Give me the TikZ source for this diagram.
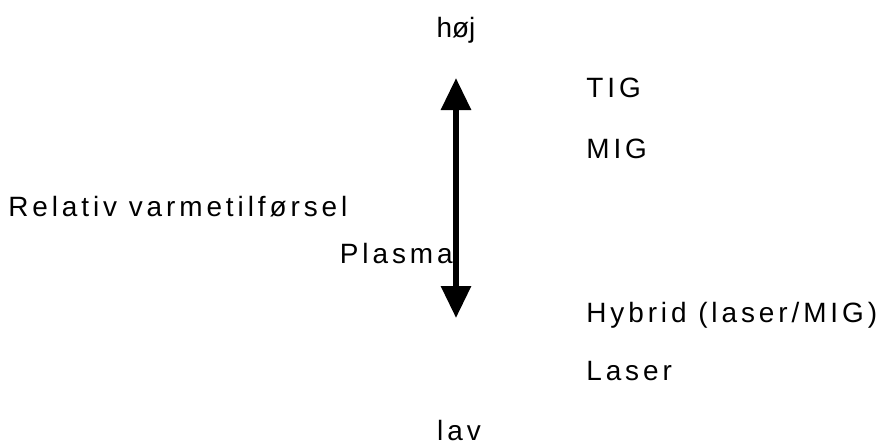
\documentclass[tikz,border=0pt]{standalone}
\usepackage{fontspec}
\setmainfont{Liberation Sans}[LetterSpace=14]
\newfontfamily\tightfont{Liberation Sans}
\usetikzlibrary{arrows.meta,positioning}

\begin{document}
\begin{tikzpicture}[x=0.02cm, y=-0.02cm,
  lbl/.style={font=\fontsize{15.9}{18}\selectfont, inner sep=0pt, anchor=base west}]
  \useasboundingbox (0,0) rectangle (885,441);

  % scale ends
  \node[lbl, anchor=base, font=\tightfont\fontsize{15.9}{18}\selectfont] (hoej) at (456,37) {høj};
  \node[lbl, anchor=base] (lav) at (459,440) {lav};

  % double arrow
  \coordinate (top) at (456,78);
  \coordinate (bot) at (456,318);
  \draw[line width=0.12cm, {Triangle[length=0.64cm, width=0.58cm]}-{Triangle[length=0.64cm, width=0.58cm]}] (top) -- (bot);

  % processes
  \node[lbl] (tig) at (586,97) {TIG};
  \node[lbl] (mig) at (586,158) {MIG};
  \node[lbl] (hybrid) at (586,322) {Hybrid (laser/MIG)};
  \node[lbl] (laser) at (586,380) {Laser};

  % axis label
  \node[lbl] (rel) at (8,216) {Relativ varmetilførsel};
  \node[lbl, anchor=base east] (plasma) at (453,263) {Plasma};
\end{tikzpicture}
\end{document}
